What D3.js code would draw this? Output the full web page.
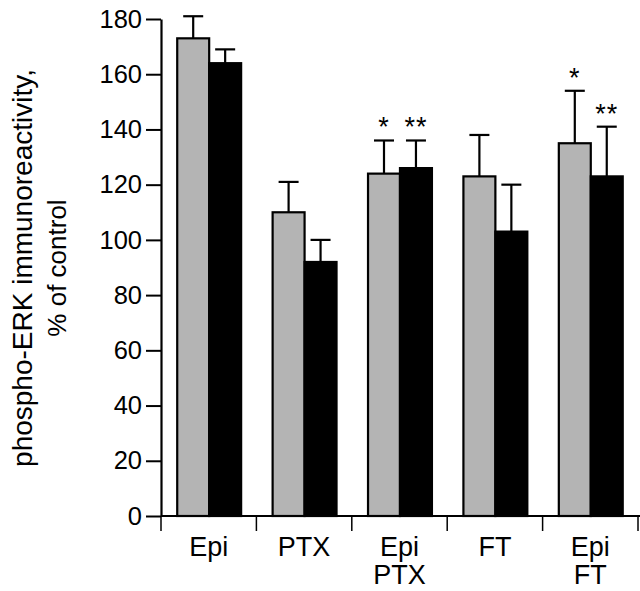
<!DOCTYPE html>
<html>
<head>
<meta charset="utf-8">
<script src="https://cdn.jsdelivr.net/npm/d3@7"></script>
<style>
  body { margin: 0; background: #fff; }
  svg text { font-family: "Liberation Sans", Arial, Helvetica, sans-serif; fill: #000; }
</style>
</head>
<body>
<div id="chart"></div>
<script>
// phospho-ERK bar chart, two series per treatment group

var groups = [['Epi'], ['PTX'], ['Epi', 'PTX'], ['FT'], ['Epi', 'FT']];
var groupKeys = ['Epi', 'PTX', 'Epi PTX', 'FT', 'Epi FT'];
var series = ['gray', 'black'];

var grayValues = [173, 110, 124, 123, 135];
var grayErrors = [8, 11, 12, 15, 19];
var blackValues = [164, 92, 126, 103, 123];
var blackErrors = [5, 8, 10, 17, 18];

var grayStars = ['', '', '*', '', '*'];
var blackStars = ['', '', '**', '', '**'];

var yTicks = [0, 20, 40, 60, 80, 100, 120, 140, 160, 180];

var width = 640, height = 591;
var margin = {top: 19, left: 161, bottom: 75, right: 2};

var svg = d3.select('#chart').append('svg')
    .attr('width', width)
    .attr('height', height);

var y = d3.scaleLinear()
    .domain([0, 180])
    .range([height - margin.bottom, margin.top]);

var x0 = d3.scaleBand()
    .domain(groupKeys)
    .range([margin.left, 638])
    .paddingInner(0)
    .paddingOuter(0);

var bw = x0.bandwidth();
var x1 = d3.scaleBand()
    .domain(series)
    .range([bw * 0.17, bw * 0.84]);

var rows = groupKeys.map(function(k, i){
    return [
        {key: k, s: 'gray', v: grayValues[i], e: grayErrors[i], star: grayStars[i]},
        {key: k, s: 'black', v: blackValues[i], e: blackErrors[i], star: blackStars[i]}
    ];
});

var g = svg.selectAll('g.grp')
    .data(rows)
    .enter().append('g')
    .attr('class', 'grp')
    .attr('transform', function(d){ return 'translate(' + x0(d[0].key) + ',0)'; });

// error bars first so the bars cover the lower half
g.selectAll('line.err')
    .data(function(d){ return d; })
    .enter().append('line')
    .attr('x1', function(d){ return x1(d.s) + x1.bandwidth() / 2; })
    .attr('x2', function(d){ return x1(d.s) + x1.bandwidth() / 2; })
    .attr('y1', function(d){ return y(d.v); })
    .attr('y2', function(d){ return y(d.v + d.e); })
    .attr('stroke', '#000')
    .attr('stroke-width', 2.2);

g.selectAll('line.cap')
    .data(function(d){ return d; })
    .enter().append('line')
    .attr('x1', function(d){ return x1(d.s) + x1.bandwidth() / 2 - 10; })
    .attr('x2', function(d){ return x1(d.s) + x1.bandwidth() / 2 + 10; })
    .attr('y1', function(d){ return y(d.v + d.e); })
    .attr('y2', function(d){ return y(d.v + d.e); })
    .attr('stroke', '#000')
    .attr('stroke-width', 2.2);

g.selectAll('rect')
    .data(function(d){ return d; })
    .enter().append('rect')
    .attr('x', function(d){ return x1(d.s); })
    .attr('width', x1.bandwidth())
    .attr('y', function(d){ return y(d.v); })
    .attr('height', function(d){ return y(0) - y(d.v); })
    .attr('fill', function(d){ return d.s === 'gray' ? '#b4b4b4' : '#000'; })
    .attr('stroke', '#000')
    .attr('stroke-width', 2.2);

g.selectAll('text.star')
    .data(function(d){ return d; })
    .enter().append('text')
    .attr('class', 'star')
    .attr('x', function(d){ return x1(d.s) + x1.bandwidth() / 2; })
    .attr('y', function(d){ return y(d.v + d.e) - 4; })
    .attr('text-anchor', 'middle')
    .style('font-size', '27px')
    .style('letter-spacing', '1px')
    .text(function(d){ return d.star; });

// y axis
var yAxis = d3.axisLeft(y)
    .tickValues(yTicks)
    .tickSize(15)
    .tickPadding(4)
    .tickSizeOuter(0);

var ya = svg.append('g')
    .attr('transform', 'translate(' + margin.left + ',0)')
    .call(yAxis);
ya.select('.domain').attr('stroke-width', 2.2);
ya.selectAll('.tick line').attr('stroke-width', 2);
ya.selectAll('.tick text').style('font-size', '25.5px');

// x axis baseline plus group separators
svg.append('line')
    .attr('x1', margin.left)
    .attr('x2', width)
    .attr('y1', y(0))
    .attr('y2', y(0))
    .attr('stroke', '#000')
    .attr('stroke-width', 2.2);

var bounds = groupKeys.map(function(k){ return x0(k); }).concat([x0.range()[1]]);
svg.selectAll('line.sep')
    .data(bounds)
    .enter().append('line')
    .attr('x1', function(d){ return d; })
    .attr('x2', function(d){ return d; })
    .attr('y1', y(0))
    .attr('y2', y(0) + 15)
    .attr('stroke', '#000')
    .attr('stroke-width', 1.5);

var lab = svg.selectAll('text.cat')
    .data(groups)
    .enter().append('text')
    .attr('class', 'cat')
    .attr('text-anchor', 'middle')
    .style('font-size', '27px')
    .attr('transform', function(d, i){
        return 'translate(' + (x0(groupKeys[i]) + bw / 2) + ',' + (y(0) + 40) + ')';
    });

lab.selectAll('tspan')
    .data(function(d){ return d; })
    .enter().append('tspan')
    .attr('x', 0)
    .attr('dy', function(d, i){ return i === 0 ? 0 : 28; })
    .text(function(d){ return d; });

// y title
var title = svg.append('text')
    .attr('transform', 'translate(32,268) rotate(-90)')
    .attr('text-anchor', 'middle');
title.append('tspan').attr('x', 0).attr('dy', 0)
    .style('font-size', '28px')
    .text('phospho-ERK immunoreactivity,');
title.append('tspan').attr('x', 0).attr('dy', 34)
    .style('font-size', '26px')
    .text('% of control');
</script>
</body>
</html>
